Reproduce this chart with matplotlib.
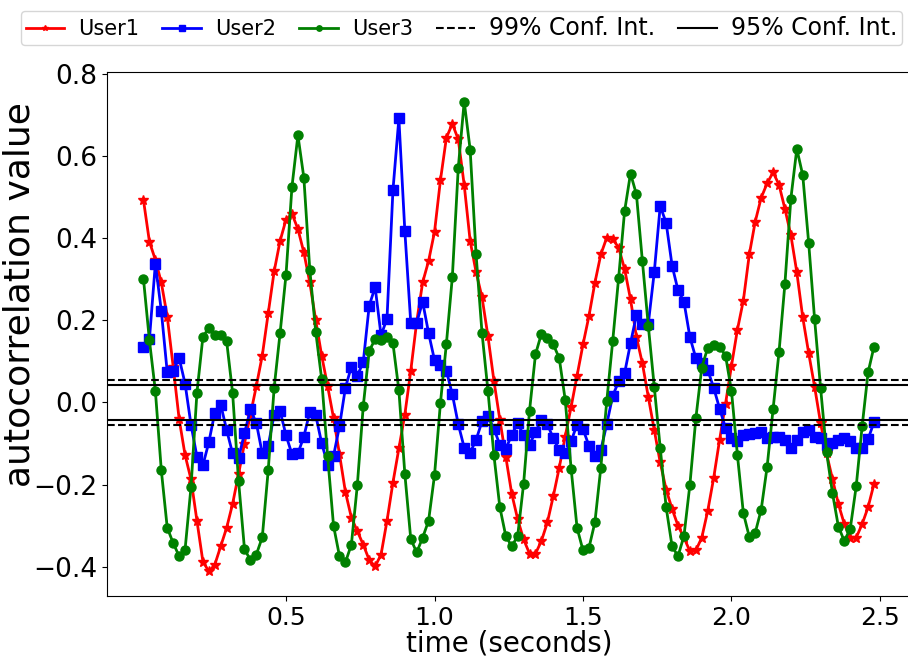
import numpy as np
import matplotlib
matplotlib.use("Agg")
from matplotlib import pyplot as plt

# lag axis: 124 lags at 50 Hz
lag_step = 0.02
n_lags = 124
time = np.round(np.arange(1, n_lags + 1) * lag_step, 2)

user1 = [
    0.492, 0.391, 0.347, 0.292, 0.209, 0.087, -0.040, -0.128, -0.187, -0.288,
    -0.387, -0.411, -0.395, -0.350, -0.305, -0.247, -0.175, -0.100, -0.030, 0.040,
    0.114, 0.217, 0.319, 0.393, 0.445, 0.459, 0.422, 0.365, 0.292, 0.200,
    0.114, 0.040, -0.038, -0.126, -0.218, -0.280, -0.313, -0.346, -0.383, -0.399,
    -0.370, -0.288, -0.195, -0.112, -0.030, 0.077, 0.196, 0.292, 0.344, 0.415,
    0.541, 0.644, 0.678, 0.640, 0.529, 0.393, 0.317, 0.256, 0.161, 0.053,
    -0.042, -0.132, -0.222, -0.284, -0.333, -0.368, -0.368, -0.337, -0.292, -0.228,
    -0.159, -0.083, -0.011, 0.065, 0.141, 0.210, 0.291, 0.360, 0.401, 0.397,
    0.377, 0.325, 0.251, 0.159, 0.095, 0.013, -0.067, -0.146, -0.212, -0.259,
    -0.300, -0.329, -0.362, -0.360, -0.329, -0.264, -0.184, -0.091, -0.003, 0.089,
    0.177, 0.248, 0.360, 0.440, 0.498, 0.533, 0.560, 0.530, 0.471, 0.407,
    0.317, 0.207, 0.120, 0.038, -0.050, -0.124, -0.186, -0.247, -0.296, -0.329,
    -0.329, -0.296, -0.255, -0.198,
]

user2 = [
    0.136, 0.154, 0.338, 0.223, 0.073, 0.077, 0.108, 0.046, -0.054, -0.132,
    -0.153, -0.097, -0.025, -0.005, -0.067, -0.124, -0.136, -0.075, -0.017, -0.050,
    -0.124, -0.105, -0.030, -0.021, -0.080, -0.126, -0.124, -0.083, -0.023, -0.031,
    -0.099, -0.151, -0.130, -0.058, 0.036, 0.087, 0.065, 0.098, 0.235, 0.281,
    0.163, 0.204, 0.516, 0.691, 0.418, 0.194, 0.194, 0.245, 0.169, 0.103,
    0.091, 0.077, 0.020, -0.053, -0.110, -0.122, -0.091, -0.046, -0.034, -0.064,
    -0.103, -0.113, -0.079, -0.050, -0.080, -0.103, -0.072, -0.042, -0.053, -0.087,
    -0.116, -0.124, -0.094, -0.054, -0.065, -0.105, -0.130, -0.116, -0.053, 0.016,
    0.051, 0.071, 0.144, 0.213, 0.192, 0.192, 0.317, 0.478, 0.437, 0.333,
    0.273, 0.245, 0.159, 0.108, 0.095, 0.079, 0.036, -0.015, -0.062, -0.087,
    -0.094, -0.079, -0.077, -0.075, -0.072, -0.087, -0.085, -0.083, -0.091, -0.110,
    -0.091, -0.071, -0.066, -0.083, -0.087, -0.103, -0.099, -0.091, -0.087, -0.095,
    -0.110, -0.110, -0.089, -0.048,
]

user3 = [
    0.300, 0.151, 0.028, -0.165, -0.305, -0.342, -0.374, -0.358, -0.206, 0.024,
    0.159, 0.182, 0.163, 0.165, 0.149, 0.024, -0.190, -0.356, -0.384, -0.370,
    -0.328, -0.165, 0.036, 0.169, 0.311, 0.525, 0.650, 0.547, 0.323, 0.172,
    0.057, -0.130, -0.300, -0.374, -0.389, -0.346, -0.202, -0.009, 0.125, 0.154,
    0.151, 0.159, 0.144, 0.030, -0.173, -0.332, -0.365, -0.329, -0.288, -0.177,
    -0.001, 0.143, 0.305, 0.571, 0.732, 0.615, 0.360, 0.169, 0.028, -0.128,
    -0.255, -0.325, -0.350, -0.325, -0.198, -0.020, 0.117, 0.167, 0.158, 0.141,
    0.108, 0.007, -0.161, -0.305, -0.360, -0.354, -0.292, -0.159, 0.003, 0.149,
    0.303, 0.465, 0.557, 0.506, 0.344, 0.186, 0.038, -0.110, -0.255, -0.350,
    -0.374, -0.325, -0.200, -0.039, 0.085, 0.133, 0.139, 0.136, 0.114, 0.028,
    -0.128, -0.269, -0.327, -0.317, -0.261, -0.157, -0.017, 0.122, 0.289, 0.496,
    0.617, 0.553, 0.388, 0.202, 0.036, -0.120, -0.220, -0.302, -0.337, -0.307,
    -0.204, -0.058, 0.073, 0.136,
]

conf99 = 0.055
conf95 = 0.042

xticks = [0.5, 1.0, 1.5, 2.0, 2.5]
yticks = [-0.4, -0.2, 0.0, 0.2, 0.4, 0.6, 0.8]


def main():
    fig = plt.figure(figsize=(9.08, 6.57), dpi=100)
    ax = fig.add_axes([0.1178, 0.0928, 0.885, 0.7976])

    ax.plot(time, user1, color="red", marker="*", markersize=7, lw=2, label="User1")
    ax.plot(time, user2, color="blue", marker="s", markersize=6.5, lw=2, label="User2")
    ax.plot(time, user3, color="green", marker="o", markersize=6.5, lw=2, label="User3")

    ax.axhline(conf99, color="black", ls="--", lw=1.5, label="99% Conf. Int.")
    ax.axhline(-conf99, color="black", ls="--", lw=1.5)
    ax.axhline(conf95, color="black", ls="-", lw=1.5, label="95% Conf. Int.")
    ax.axhline(-conf95, color="black", ls="-", lw=1.5)

    ax.set_xlim(-0.103, 2.603)
    ax.set_ylim(-0.471, 0.804)
    ax.set_xticks(xticks)
    ax.set_yticks(yticks)
    ax.tick_params(axis="x", labelsize=18)
    ax.tick_params(axis="y", labelsize=19)

    ax.set_xlabel("time (seconds)", fontsize=20, labelpad=0)
    ax.set_ylabel("autocorrelation value", fontsize=26)
    ax.yaxis.set_label_coords(-0.088, 0.575)

    leg = fig.legend(
        loc="upper center",
        bbox_to_anchor=(0.508, 0.998),
        ncol=5,
        fontsize=14,
        markerscale=0.6,
        handlelength=2.0,
        columnspacing=1.2,
        handletextpad=0.7,
        borderpad=0.25,
    )
    for text in leg.get_texts()[:3]:
        text.set_fontsize(15)
    for text in leg.get_texts()[3:]:
        text.set_fontsize(17)

    fig.savefig("out.png", dpi=100)


if __name__ == "__main__":
    main()
